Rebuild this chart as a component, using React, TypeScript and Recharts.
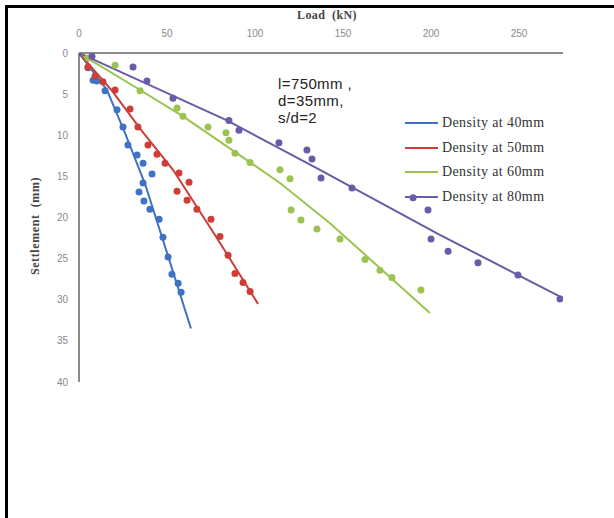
import { ScatterChart, Scatter, XAxis, YAxis } from 'recharts';

const loadTicks = [0, 50, 100, 150, 200, 250];
const settlementTicks = [0, 5, 10, 15, 20, 25, 30, 35, 40];

// measured points: load (kN) / settlement (mm)
const load40 = [0, 5.1, 8.0, 10.2, 14.8, 21.6, 25.0, 27.8, 33.0, 36.4, 41.5, 36.4, 34.1, 36.9, 40.3, 45.5, 47.7, 50.6, 52.8, 56.3, 58.0];
const settle40 = [0, 1.8, 3.3, 3.4, 4.6, 6.9, 9.0, 11.2, 12.4, 13.4, 14.7, 15.8, 16.9, 18.0, 19.0, 20.2, 22.4, 24.8, 26.9, 28.0, 29.1];

const load50 = [0, 5.1, 9.1, 13.6, 20.5, 29.0, 33.5, 39.2, 44.3, 48.9, 56.8, 62.5, 55.7, 61.4, 67.0, 75.0, 80.1, 84.7, 88.6, 93.2, 97.2];
const settle50 = [0, 1.7, 2.8, 3.5, 4.5, 6.8, 9.0, 11.2, 12.3, 13.4, 14.6, 15.7, 16.8, 17.9, 19.0, 20.2, 22.3, 24.6, 26.8, 27.9, 29.0];

const load60 = [0, 5.1, 20.5, 34.7, 55.7, 59.1, 73.3, 83.5, 85.2, 88.6, 97.2, 114.2, 119.9, 120.5, 126.1, 135.2, 148.3, 162.5, 171.0, 177.8, 194.3];
const settle60 = [0, 0.6, 1.5, 4.6, 6.7, 7.7, 9.0, 9.7, 10.6, 12.2, 13.3, 14.2, 15.3, 19.1, 20.3, 21.4, 22.6, 25.1, 26.4, 27.3, 28.8];

const load80 = [0, 7.4, 30.7, 38.6, 53.4, 85.2, 90.9, 113.6, 129.5, 132.4, 137.5, 155.1, 189.8, 198.3, 200.0, 209.7, 226.7, 249.4, 273.3];
const settle80 = [0, 0.4, 1.7, 3.4, 5.5, 8.2, 9.4, 10.9, 11.8, 12.9, 15.2, 16.4, 17.6, 19.1, 22.6, 24.1, 25.5, 27.0, 29.9];

// trend lines
const trendLoad40 = [0, 15.9, 26.1, 37.5, 50.6, 63.6];
const trendSettle40 = [0, 4.5, 9.7, 15.9, 24.7, 33.5];
const trendLoad50 = [0, 18.8, 35.8, 53.4, 77.8, 101.7];
const trendSettle50 = [0, 4.6, 9.5, 14.2, 22.3, 30.5];
const trendLoad60 = [0, 34.7, 59.1, 89.8, 114.2, 142.6, 199.4];
const trendSettle60 = [0, 4.5, 7.7, 12.2, 15.8, 20.7, 31.6];
const trendLoad80 = [0, 84.1, 136.9, 205.0, 275.0];
const trendSettle80 = [0, 8.2, 14.2, 22.1, 29.8];

const zip = (xs: number[], ys: number[]) => xs.map((x, i) => ({ x, y: ys[i] }));

const series = [
  { name: 'Density at 40mm', color: '#3F72C4', points: zip(load40, settle40), trend: zip(trendLoad40, trendSettle40) },
  { name: 'Density at 50mm', color: '#CE3D38', points: zip(load50, settle50), trend: zip(trendLoad50, trendSettle50) },
  { name: 'Density at 60mm', color: '#9CC352', points: zip(load60, settle60), trend: zip(trendLoad60, trendSettle60) },
  { name: 'Density at 80mm', color: '#6A5BA6', points: zip(load80, settle80), trend: zip(trendLoad80, trendSettle80) },
];

const serif = 'Liberation Serif, Times New Roman, serif';
const tickStyle = { fontSize: 10, fill: '#8a8a8a', fontFamily: 'Liberation Sans, Arial, sans-serif' };
const axisLine = { stroke: '#8c8c8c', strokeWidth: 2 };

export default function App() {
  return (
    <div style={{ position: 'absolute', left: 0, top: 0, width: 614, height: 518, background: '#fff', overflow: 'hidden' }}>
      <div style={{ position: 'absolute', left: 5, top: 5, width: 620, height: 3, background: '#000' }} />
      <div style={{ position: 'absolute', left: 5, top: 5, width: 3, height: 520, background: '#000' }} />

      <ScatterChart width={614} height={518} margin={{ top: 23, right: 51, bottom: 136, left: 39 }}>
        <XAxis
          type="number"
          dataKey="x"
          orientation="top"
          domain={[0, 275]}
          ticks={loadTicks}
          allowDataOverflow
          height={30}
          tickLine={false}
          tickMargin={10}
          axisLine={axisLine}
          tick={tickStyle}
        />
        <YAxis
          type="number"
          dataKey="y"
          reversed
          domain={[0, 40]}
          ticks={settlementTicks}
          allowDataOverflow
          width={40}
          tickLine={false}
          tickMargin={5}
          axisLine={axisLine}
          tick={tickStyle}
        />
        {series.map((s) => (
          <Scatter
            key={s.name + '-trend'}
            data={s.trend}
            line={{ stroke: s.color, strokeWidth: 2 }}
            shape={() => <g />}
            isAnimationActive={false}
          />
        ))}
        {series.map((s) => (
          <Scatter
            key={s.name}
            data={s.points}
            fill={s.color}
            shape={(p: any) => <circle cx={p.cx} cy={p.cy} r={3.5} fill={s.color} />}
            isAnimationActive={false}
          />
        ))}
      </ScatterChart>

      <div style={{ position: 'absolute', left: 297, top: 8, fontFamily: serif, fontWeight: 'bold', fontSize: 12, letterSpacing: 0.4, color: '#444' }}>
        Load&nbsp;&nbsp;(kN)
      </div>
      <div
        style={{
          position: 'absolute',
          left: 35,
          top: 226,
          transform: 'translate(-50%, -50%) rotate(-90deg)',
          whiteSpace: 'nowrap',
          fontFamily: serif,
          fontWeight: 'bold',
          fontSize: 12,
          letterSpacing: 0.6,
          color: '#444',
        }}
      >
        Settlement&nbsp;&nbsp;(mm)
      </div>

      <div style={{ position: 'absolute', left: 278, top: 75, fontFamily: 'Liberation Sans, Arial, sans-serif', fontSize: 15, letterSpacing: 0.4, lineHeight: '17px', color: '#222' }}>
        <div>l=750mm ,</div>
        <div>d=35mm,</div>
        <div>s/d=2</div>
      </div>

      <div style={{ position: 'absolute', left: 405, top: 111 }}>
        {series.map((s) => (
          <div key={s.name} style={{ display: 'flex', alignItems: 'center', height: 24.5 }}>
            <div style={{ width: 33, height: 2, background: s.color, marginRight: 4 }} />
            <span style={{ fontFamily: serif, fontSize: 14, letterSpacing: 0.4, color: '#333', whiteSpace: 'nowrap' }}>
              {s.name}
            </span>
          </div>
        ))}
      </div>
    </div>
  );
}
